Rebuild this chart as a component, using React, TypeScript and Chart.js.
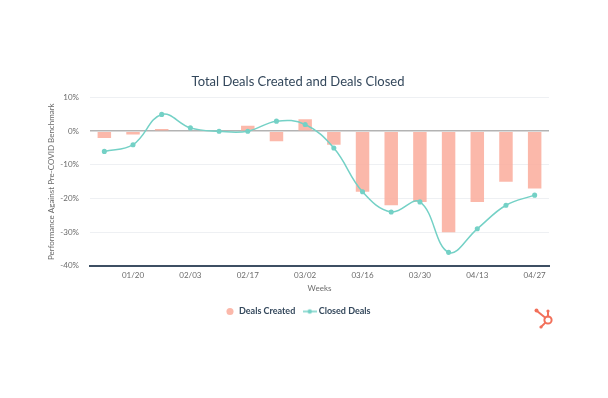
import React, { useEffect, useRef } from "react";
import { Chart, registerables } from "chart.js";

Chart.register(...registerables);

const weeks = ["01/13", "01/20", "01/27", "02/03", "02/10", "02/17", "02/24", "03/02", "03/09", "03/16", "03/23", "03/30", "04/06", "04/13", "04/20", "04/27"];
const dealsCreated = [-2, -1, 0.7, 0, 0, 1.6, -3, 3.6, -4, -18, -22, -21, -30, -21, -15, -17];
const closedDeals = [-6, -4, 5, 1, 0, 0, 3, 2, -5, -18, -24, -21, -36, -29, -22, -19];
const yTicks = [10, 0, -10, -20, -30, -40];

const BAR = "rgba(250,172,155,0.85)";
const LINE = "#74d1c6";
const FONT = "Lato, 'Open Sans', sans-serif";

function lineIcon(): HTMLCanvasElement {
  const c = document.createElement("canvas");
  c.width = 14;
  c.height = 8;
  const g = c.getContext("2d")!;
  g.strokeStyle = LINE;
  g.lineWidth = 1.5;
  g.beginPath();
  g.moveTo(0, 4);
  g.lineTo(14, 4);
  g.stroke();
  g.fillStyle = LINE;
  g.beginPath();
  g.arc(7, 4, 2.2, 0, Math.PI * 2);
  g.fill();
  return c;
}

export default function App() {
  const ref = useRef<HTMLCanvasElement>(null);
  useEffect(() => {
    const icon = lineIcon();
    const chart = new Chart(ref.current!, {
      type: "bar",
      data: {
        labels: weeks,
        datasets: [
          {
            type: "bar",
            label: "Deals Created",
            data: dealsCreated,
            backgroundColor: BAR,
            borderWidth: 0,
            barPercentage: 0.47,
            categoryPercentage: 1,
            order: 2,
          },
          {
            type: "line",
            label: "Closed Deals",
            data: closedDeals,
            borderColor: LINE,
            backgroundColor: LINE,
            borderWidth: 1.5,
            tension: 0.4,
            pointRadius: 1.8,
            pointHoverRadius: 1.8,
            order: 1,
          } as any,
        ],
      },
      options: {
        animation: false,
        responsive: true,
        maintainAspectRatio: false,
        layout: { padding: { left: 47, right: 59, top: 74, bottom: 72 } },
        plugins: {
          tooltip: { enabled: false },
          title: {
            display: true,
            text: "Total Deals Created and Deals Closed",
            color: "#33475b",
            font: { family: FONT, size: 13, weight: "normal" },
            padding: { top: 0, bottom: 8 },
          },
          legend: {
            position: "bottom",
            labels: {
              usePointStyle: true,
              boxWidth: 10,
              boxHeight: 5,
              padding: 10,
              color: "#33475b",
              font: { family: FONT, size: 9, weight: "bold" },
              generateLabels: () => [
                {
                  text: "Deals Created",
                  fillStyle: BAR,
                  strokeStyle: BAR,
                  lineWidth: 0,
                  pointStyle: "circle",
                  hidden: false,
                  datasetIndex: 0,
                  fontColor: "#33475b",
                },
                {
                  text: "Closed Deals",
                  fillStyle: LINE,
                  strokeStyle: LINE,
                  lineWidth: 0,
                  pointStyle: icon,
                  hidden: false,
                  datasetIndex: 1,
                  fontColor: "#33475b",
                },
              ] as any,
            },
          },
        },
        scales: {
          x: {
            grid: { display: false, drawTicks: false },
            border: { display: true, color: "#3d4f63", width: 2 },
            ticks: {
              autoSkip: false,
              maxRotation: 0,
              color: "#6b6b6b",
              font: { family: FONT, size: 8 },
              padding: 5,
              callback: (v: any, i: number) => (i % 2 === 1 ? weeks[i] : ""),
            },
            title: {
              display: true,
              text: "Weeks",
              color: "#6b6b6b",
              font: { family: FONT, size: 8 },
              padding: { top: -2, bottom: 4 },
            },
          },
          y: {
            min: -40,
            max: 10,
            afterBuildTicks: (s: any) => {
              s.ticks = yTicks.map((v) => ({ value: v }));
            },
            afterFit: (s: any) => {
              s.width = 43;
            },
            border: { display: false },
            grid: {
              color: (ctx: any) => (ctx.tick && ctx.tick.value === 0 ? "#b3b3b3" : "#eef0f3"),
              lineWidth: (ctx: any) => (ctx.tick && ctx.tick.value === 0 ? 1.5 : 1),
              drawTicks: false,
            },
            ticks: {
              color: "#6b6b6b",
              font: { family: FONT, size: 8 },
              padding: 11,
              callback: (v: any) => v + "%",
            },
            title: {
              display: true,
              text: "Performance Against Pre-COVID Benchmark",
              color: "#6b6b6b",
              font: { family: FONT, size: 8 },
              padding: { top: 0, bottom: 4 },
            },
          },
        },
      },
    });
    return () => chart.destroy();
  }, []);

  return (
    <div style={{ position: "fixed", left: 0, top: 0, width: 608, height: 398, background: "#fff" }}>
      <canvas ref={ref} />
      <svg width="24" height="24" viewBox="0 0 24 24" style={{ position: "absolute", left: 533, top: 306 }}>
        <g stroke="#f2705a" strokeWidth="2" fill="none" strokeLinecap="round">
          <circle cx="15" cy="14" r="3.6" />
          <line x1="12" y1="11.5" x2="4" y2="5" />
          <line x1="15" y1="10.4" x2="15" y2="5.5" />
          <line x1="12.4" y1="16.6" x2="8.5" y2="20.5" />
        </g>
        <g fill="#f2705a">
          <circle cx="3.5" cy="4.5" r="2" />
          <circle cx="15" cy="5" r="1.6" />
          <circle cx="8" cy="21" r="1.6" />
        </g>
      </svg>
    </div>
  );
}
